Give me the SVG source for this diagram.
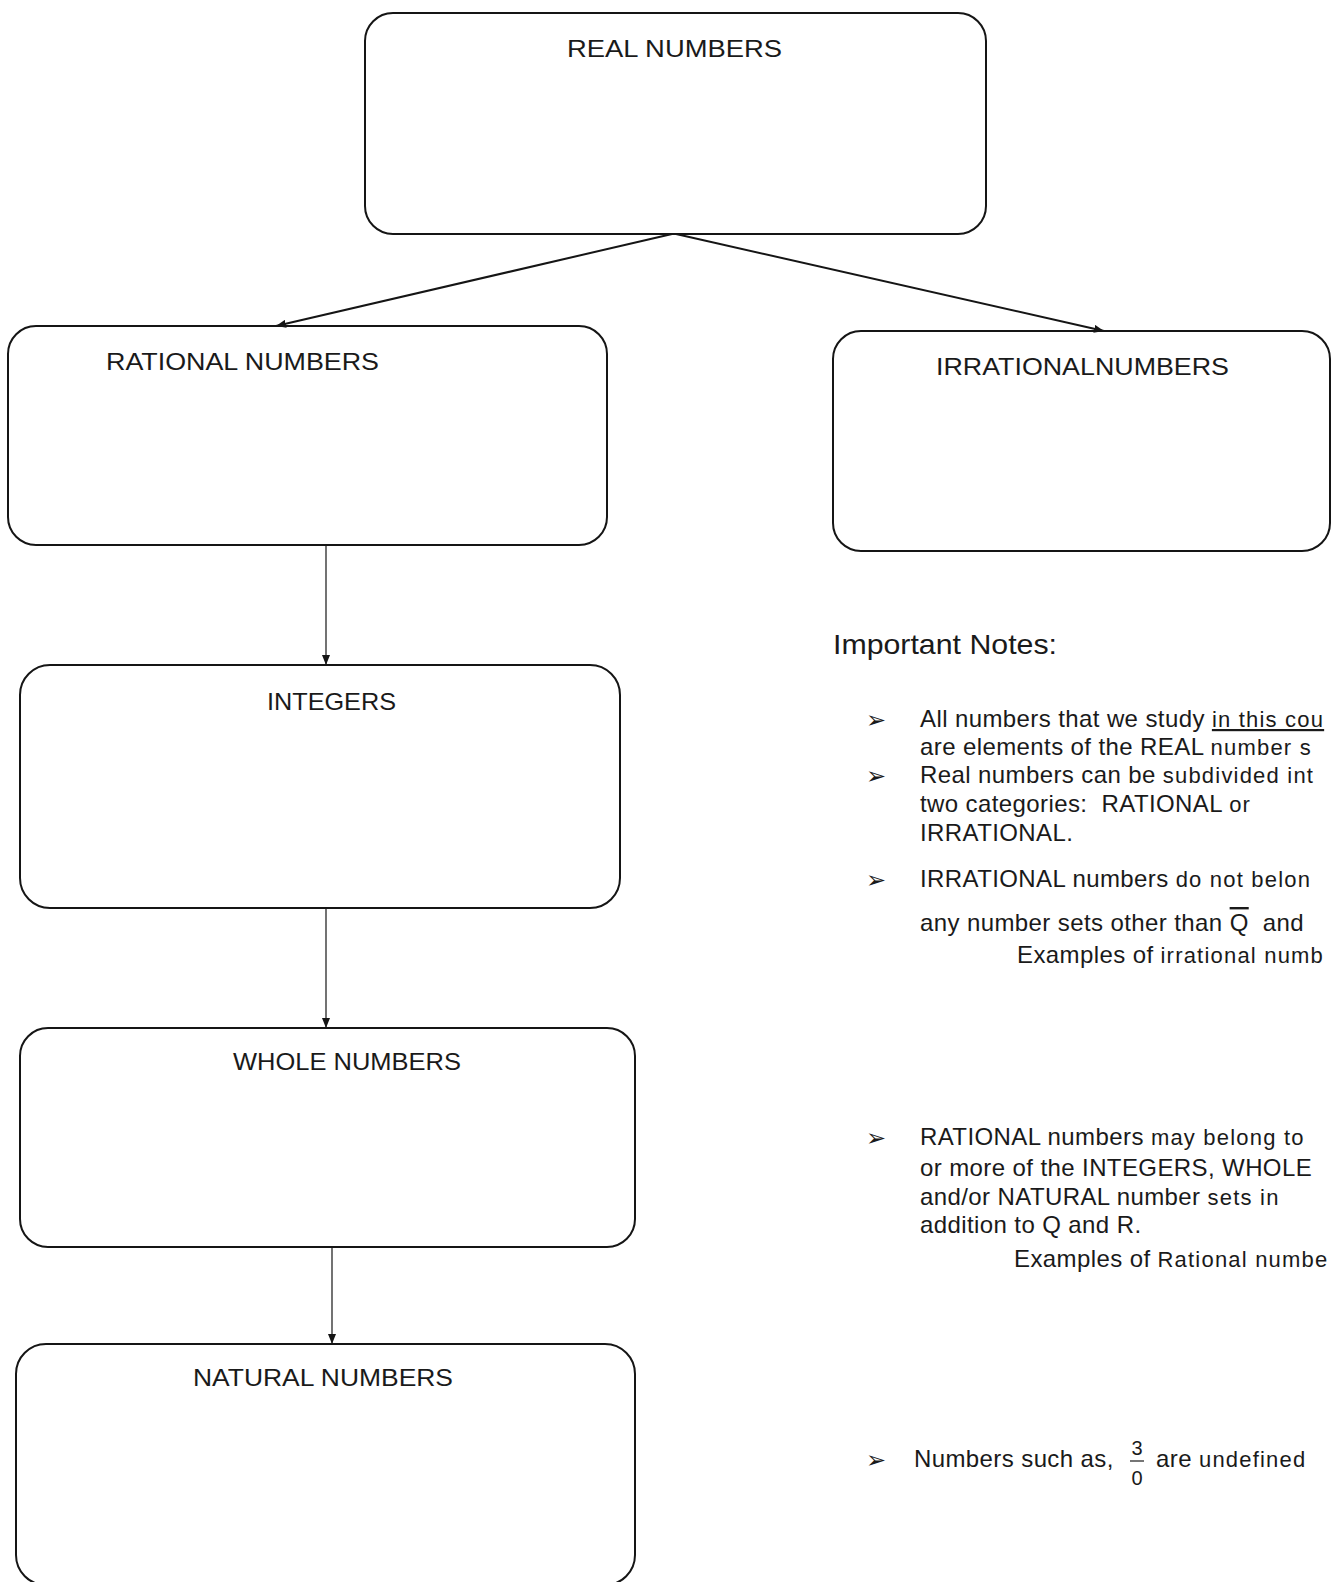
<svg xmlns="http://www.w3.org/2000/svg" width="1331" height="1582" viewBox="0 0 1331 1582">
<style>
.box{fill:none;stroke:#151515;stroke-width:2}
.lbl{font-family:"Liberation Sans",Arial,sans-serif;font-size:24px;fill:#1a1a1a}
.note{font-family:"Liberation Sans",Arial,sans-serif;font-size:24px;fill:#1a1a1a;letter-spacing:0.4px}
.sm{font-size:22px;letter-spacing:1.2px}
.bul{font-family:"DejaVu Sans",sans-serif;font-size:24px;fill:#1a1a1a}
.con{fill:none;stroke:#151515}
</style>
<defs>
<marker id="arr" viewBox="0 0 10 8" refX="10" refY="4" markerWidth="10" markerHeight="8" orient="auto" markerUnits="userSpaceOnUse">
<path d="M0,0 L10,4 L0,8 Z" fill="#151515"/>
</marker>
</defs>
<rect width="1331" height="1582" fill="#ffffff"/>

<g id="connectors">
<line class="con" stroke-width="2" x1="672" y1="234" x2="276" y2="326" marker-end="url(#arr)"/>
<line class="con" stroke-width="2" x1="676" y1="234" x2="1104" y2="331" marker-end="url(#arr)"/>
<line class="con" stroke-width="1.2" x1="326" y1="545" x2="326" y2="665" marker-end="url(#arr)"/>
<line class="con" stroke-width="1.2" x1="326" y1="908" x2="326" y2="1028" marker-end="url(#arr)"/>
<line class="con" stroke-width="1.2" x1="332" y1="1247" x2="332" y2="1344" marker-end="url(#arr)"/>
</g>

<g id="real">
<rect class="box" x="365" y="13" width="621" height="221" rx="28"/>
<text class="lbl" x="567" y="57" textLength="215" lengthAdjust="spacingAndGlyphs">REAL NUMBERS</text>
</g>
<g id="rational">
<rect class="box" x="8" y="326" width="599" height="219" rx="28"/>
<text class="lbl" x="106" y="370" textLength="273" lengthAdjust="spacingAndGlyphs">RATIONAL NUMBERS</text>
</g>
<g id="irrational">
<rect class="box" x="833" y="331" width="497" height="220" rx="28"/>
<text class="lbl" x="936" y="375" textLength="293" lengthAdjust="spacingAndGlyphs">IRRATIONALNUMBERS</text>
</g>
<g id="integers">
<rect class="box" x="20" y="665" width="600" height="243" rx="30"/>
<text class="lbl" x="267" y="710" textLength="129" lengthAdjust="spacingAndGlyphs">INTEGERS</text>
</g>
<g id="whole">
<rect class="box" x="20" y="1028" width="615" height="219" rx="28"/>
<text class="lbl" x="233" y="1070" textLength="228" lengthAdjust="spacingAndGlyphs">WHOLE NUMBERS</text>
</g>
<g id="natural">
<rect class="box" x="16" y="1344" width="619" height="241" rx="30"/>
<text class="lbl" x="193" y="1386" textLength="260" lengthAdjust="spacingAndGlyphs">NATURAL NUMBERS</text>
</g>

<g id="notes">
<text class="lbl" x="833" y="654" textLength="224" lengthAdjust="spacingAndGlyphs" style="font-size:28px">Important Notes:</text>

<text class="bul" x="866" y="728">➢</text>
<text class="note" x="920" y="727" xml:space="preserve">All numbers that we study <tspan class="sm" text-decoration="underline">in this cou</tspan></text>
<text class="note" x="920" y="755" xml:space="preserve">are elements of the REAL <tspan class="sm">number s</tspan></text>
<text class="bul" x="866" y="784">➢</text>
<text class="note" x="920" y="783" xml:space="preserve">Real numbers can be <tspan class="sm">subdivided int</tspan></text>
<text class="note" x="920" y="812" xml:space="preserve">two categories:  RATIONAL <tspan class="sm">or</tspan></text>
<text class="note" x="920" y="841">IRRATIONAL.</text>
<text class="bul" x="866" y="888">➢</text>
<text class="note" x="920" y="887" xml:space="preserve">IRRATIONAL numbers <tspan class="sm">do not belon</tspan></text>
<text class="note" x="920" y="931" xml:space="preserve">any number sets other than <tspan text-decoration="overline">Q</tspan>  and</text>
<text class="note" x="1017" y="963" xml:space="preserve">Examples of <tspan class="sm">irrational numb</tspan></text>

<text class="bul" x="866" y="1146">➢</text>
<text class="note" x="920" y="1145" xml:space="preserve">RATIONAL numbers <tspan class="sm">may belong to</tspan></text>
<text class="note" x="920" y="1176">or more of the INTEGERS, WHOLE</text>
<text class="note" x="920" y="1205" xml:space="preserve">and/or NATURAL number <tspan class="sm">sets in</tspan></text>
<text class="note" x="920" y="1233">addition to Q and R.</text>
<text class="note" x="1014" y="1267" xml:space="preserve">Examples of <tspan class="sm">Rational numbe</tspan></text>

<text class="bul" x="866" y="1468">➢</text>
<text class="note" x="914" y="1467">Numbers such as,</text>
<text class="note" x="1137" y="1455" text-anchor="middle" style="font-size:20px;letter-spacing:0">3</text>
<line x1="1130" y1="1461" x2="1144" y2="1461" stroke="#1a1a1a" stroke-width="1.2"/>
<text class="note" x="1137" y="1485" text-anchor="middle" style="font-size:20px;letter-spacing:0">0</text>
<text class="note" x="1156" y="1467" xml:space="preserve">are <tspan class="sm">undefined</tspan></text>
</g>
</svg>
